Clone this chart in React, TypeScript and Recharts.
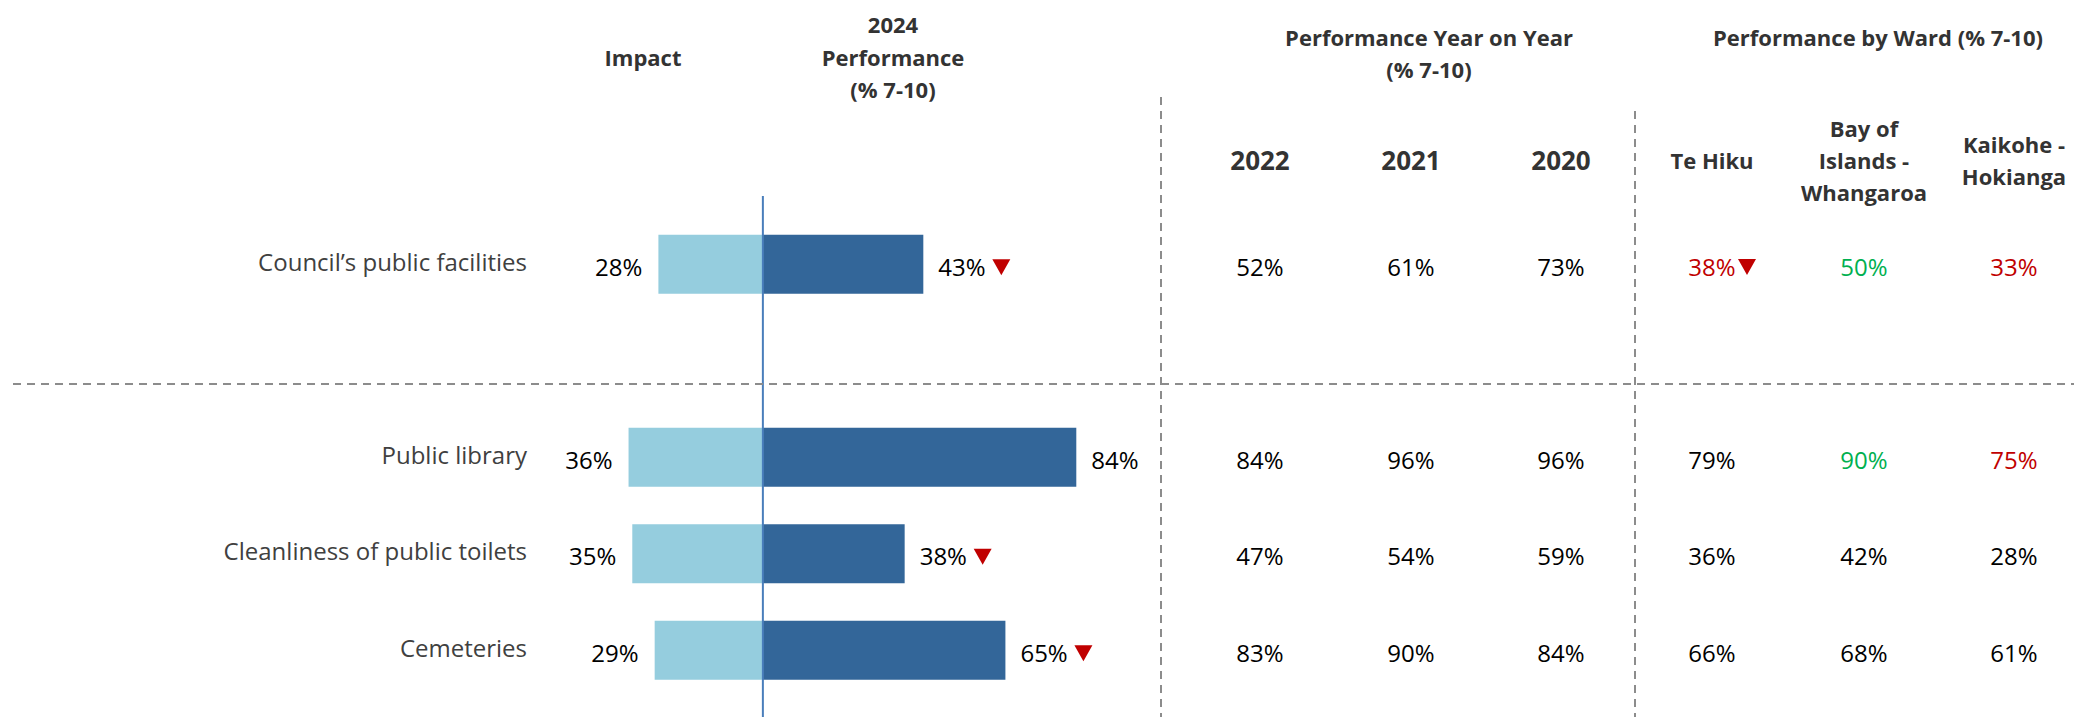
import { BarChart, Bar, XAxis, YAxis, LabelList, ReferenceLine } from 'recharts';

const CATEGORIES = ['Council’s public facilities', 'Public library', 'Cleanliness of public toilets', 'Cemeteries'];
const IMPACT = [28, 36, 35, 29];
const PERF_2024 = [43, 84, 38, 65];
const PERF_2024_DECLINE = [true, false, true, true];

const YEARS = ['2022', '2021', '2020'];
const PERF_2022 = [52, 84, 47, 83];
const PERF_2021 = [61, 96, 54, 90];
const PERF_2020 = [73, 96, 59, 84];

const WARDS = [['Te Hiku'], ['Bay of', 'Islands -', 'Whangaroa'], ['Kaikohe -', 'Hokianga']];
const TE_HIKU = [38, 79, 36, 66];
const BAY_OF_ISLANDS = [50, 90, 42, 68];
const KAIKOHE = [33, 75, 28, 61];
// hi / lo = significantly above / below the district result
const TE_HIKU_SIG = ['lo', '', '', ''];
const BAY_OF_ISLANDS_SIG = ['hi', 'hi', '', ''];
const KAIKOHE_SIG = ['lo', 'lo', '', ''];
const TE_HIKU_DECLINE = [true, false, false, false];

// the first category is a group of its own, a blank row follows it
const GROUP_BREAK_AFTER = 0;

const LIGHT = '#95cdde';
const DARK = '#336699';
const RED = '#c00000';
const GREEN = '#00b050';
const GRID = '#8c8c8c';
const LABEL = '#404040';
const HEAD = '#333333';

const YEAR_X = [1260, 1411, 1561];
const WARD_X = [1712, 1864, 2014];

type Row = {
  name: string;
  impactNeg: number | null;
  perf: number | null;
  perfTag: string | null;
  years: number[];
  wards: { v: number; sig: string; decline: boolean }[];
};

const rows: Row[] = [];
CATEGORIES.forEach((name, i) => {
  rows.push({
    name,
    impactNeg: -IMPACT[i],
    perf: PERF_2024[i],
    perfTag: `${PERF_2024[i]}|${PERF_2024_DECLINE[i] ? 1 : 0}`,
    years: [PERF_2022[i], PERF_2021[i], PERF_2020[i]],
    wards: [
      { v: TE_HIKU[i], sig: TE_HIKU_SIG[i], decline: TE_HIKU_DECLINE[i] },
      { v: BAY_OF_ISLANDS[i], sig: BAY_OF_ISLANDS_SIG[i], decline: false },
      { v: KAIKOHE[i], sig: KAIKOHE_SIG[i], decline: false },
    ],
  });
  if (i === GROUP_BREAK_AFTER) {
    rows.push({ name: ' ', impactNeg: null, perf: null, perfTag: null, years: [], wards: [] });
  }
});

const sigColor = (s: string) => (s === 'hi' ? GREEN : s === 'lo' ? RED : '#000');

function DownTri({ x, y }: { x: number; y: number }) {
  return <polygon points={`${x},${y - 8} ${x + 18},${y - 8} ${x + 9},${y + 8}`} fill={RED} />;
}

function RowTick(props: any) {
  const { y, payload } = props;
  const row = rows.find((r) => r.name === payload.value);
  if (!row || row.perf == null) return null;
  return (
    <g>
      <text x={527} y={y - 3} textAnchor="end" dominantBaseline="central" fontSize={24} fill={LABEL}>
        {row.name}
      </text>
      {row.years.map((v, j) => (
        <text key={'y' + j} x={YEAR_X[j]} y={y + 2} textAnchor="middle" dominantBaseline="central" fontSize={24} fill="#000">
          {v}%
        </text>
      ))}
      {row.wards.map((w, j) => (
        <g key={'w' + j}>
          <text x={WARD_X[j]} y={y + 2} textAnchor="middle" dominantBaseline="central" fontSize={24} fill={sigColor(w.sig)}>
            {w.v}%
          </text>
          {w.decline && <DownTri x={WARD_X[j] + 26} y={y + 3} />}
        </g>
      ))}
    </g>
  );
}

function ImpactLabel(props: any) {
  const { x, y, width, height, value } = props;
  if (value == null) return null;
  const left = Math.min(x, x + width);
  return (
    <text x={left - 16} y={y + height / 2 + 2} textAnchor="end" dominantBaseline="central" fontSize={24} fill="#000">
      {Math.abs(value)}%
    </text>
  );
}

function PerfLabel(props: any) {
  const { x, y, width, height, value } = props;
  if (value == null) return null;
  const [v, d] = String(value).split('|');
  const right = Math.max(x, x + width);
  const cy = y + height / 2 + 2;
  return (
    <g>
      <text x={right + 15} y={cy} textAnchor="start" dominantBaseline="central" fontSize={24} fill="#000">
        {v}%
      </text>
      {d === '1' && <DownTri x={right + 69} y={cy + 1} />}
    </g>
  );
}

function Headers() {
  const bold = { fontWeight: 700, fill: HEAD, textAnchor: 'middle' as const, dominantBaseline: 'central' as const };
  return (
    <svg width={2074} height={717} style={{ position: 'absolute', left: 0, top: 0, pointerEvents: 'none' }}>
      <text x={643} y={57} fontSize={22} {...bold}>Impact</text>
      <text x={893} y={24} fontSize={22} {...bold}>2024</text>
      <text x={893} y={57} fontSize={22} {...bold}>Performance</text>
      <text x={893} y={89} fontSize={22} {...bold}>(% 7-10)</text>
      <text x={1429} y={37} fontSize={22} {...bold}>Performance Year on Year</text>
      <text x={1429} y={69} fontSize={22} {...bold}>(% 7-10)</text>
      <text x={1878} y={37} fontSize={22} {...bold}>Performance by Ward (% 7-10)</text>
      {YEARS.map((yr, j) => (
        <text key={yr} x={YEAR_X[j]} y={160} fontSize={26} {...bold}>{yr}</text>
      ))}
      {WARDS.map((lines, j) =>
        lines.map((t, k) => (
          <text key={j + '-' + k} x={WARD_X[j]} y={160 - (lines.length - 1) * 16 + k * 32} fontSize={22} {...bold}>
            {t}
          </text>
        ))
      )}
      <line x1={13} x2={2074} y1={384} y2={384} stroke={GRID} strokeWidth={2} strokeDasharray="8 6" />
      <line x1={1161} x2={1161} y1={97} y2={717} stroke={GRID} strokeWidth={2} strokeDasharray="8 6" />
      <line x1={1635} x2={1635} y1={111} y2={717} stroke={GRID} strokeWidth={2} strokeDasharray="8 6" />
    </svg>
  );
}

export default function App() {
  return (
    <div
      style={{
        position: 'absolute',
        left: 0,
        top: 0,
        width: 2074,
        height: 717,
        background: '#fff',
        fontFamily: '"Open Sans", sans-serif',
        overflow: 'hidden',
      }}
    >
      <BarChart
        width={2074}
        height={717}
        data={rows}
        layout="vertical"
        stackOffset="sign"
        barSize={59}
        margin={{ top: 196, right: 938, bottom: 0, left: 0 }}
      >
        <XAxis type="number" domain={[-60, 100]} hide allowDataOverflow />
        <YAxis
          type="category"
          dataKey="name"
          width={539}
          axisLine={false}
          tickLine={false}
          interval={0}
          padding={{ top: 19.75, bottom: 18.75 }}
          tick={<RowTick />}
        />
        <Bar dataKey="impactNeg" stackId="a" fill={LIGHT} isAnimationActive={false}>
          <LabelList dataKey="impactNeg" content={<ImpactLabel />} />
        </Bar>
        <Bar dataKey="perf" stackId="a" fill={DARK} isAnimationActive={false}>
          <LabelList dataKey="perfTag" content={<PerfLabel />} />
        </Bar>
        <ReferenceLine x={0} stroke="#4a7ebb" strokeWidth={2} />
      </BarChart>
      <Headers />
    </div>
  );
}
